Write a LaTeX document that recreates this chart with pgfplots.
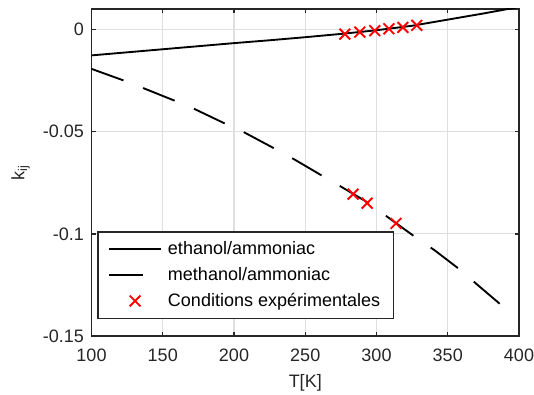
\documentclass[border=0pt]{standalone}
\usepackage{fontspec}
\setmainfont{Liberation Sans}
\usepackage{pgfplots}
\pgfplotsset{compat=1.18}
\definecolor{axgray}{HTML}{262626}
\definecolor{gridgray}{HTML}{DFDFDF}
\pgfplotsset{
  longline legend/.style={legend image code/.code={\path (-3.75pt,0pt) (41.5pt,0pt);\draw[##1] (0pt,0pt) -- (39pt,0pt);}},
  longmark legend/.style={legend image code/.code={\path (-3.75pt,0pt) (41.5pt,0pt);\draw[mark repeat=2,mark phase=2,##1] plot coordinates {(0pt,0pt) (19.5pt,0pt) (39pt,0pt)};}},
}
\begin{document}
\fontsize{13.5pt}{15pt}\selectfont
\begin{tikzpicture}
\useasboundingbox (-68.625pt,-44.25pt) rectangle (331.875pt,252pt);
\begin{axis}[
  scale only axis,
  width=320.625pt, height=245.25pt,
  xmin=100, xmax=400, ymin=-0.15, ymax=0.01,
  xtick={100,150,200,250,300,350,400},
  xticklabels={100,150,200,250,300,350,400},
  ytick={-0.15,-0.1,-0.05,0},
  yticklabels={-0.15,-0.1,-0.05,0},
  tick align=inside,
  major tick length=3.2pt,
  xtick pos=both, ytick pos=both,
  axis line style={axgray, line width=1.1pt},
  tick style={axgray, line width=1.1pt},
  grid=major,
  grid style={gridgray, line width=0.9pt},
  ticklabel style={text=axgray, font=\fontsize{13.5pt}{15pt}\selectfont},
  xticklabel style={yshift=-5pt},
  yticklabel style={xshift=-1pt},
  xlabel={T[K]},
  ylabel={k$_{\mathrm{ij}}$},
  label style={text=axgray, font=\fontsize{13.5pt}{15pt}\selectfont},
  xlabel style={at={(axis description cs:0.5,-0.1437)}, anchor=center},
  ylabel style={at={(axis description cs:-0.166,0.5)}, anchor=center},
  legend cell align=left,
  legend style={at={(rel axis cs:0.013,0.052)}, anchor=south west,
    draw=axgray, line width=1.1pt, fill=white,
    font=\fontsize{13.5pt}{15pt}\selectfont, text=black,
    inner xsep=4pt, inner ysep=5pt, row sep=3.5pt,
    nodes={inner sep=2pt}},
  clip=true,
]
\addplot[black, line width=1.4pt, longline legend]
coordinates {
(100,-0.0127) (125,-0.0112) (150,-0.0097) (175,-0.0082) (200,-0.0067)
(225,-0.0053) (250,-0.0038) (275,-0.0022) (300,-0.0004) (325,0.0018)
(350,0.0048) (375,0.0078) (400,0.0110)
};
\addlegendentry{ethanol/ammoniac}
\addplot[black, line width=1.4pt, dash pattern=on 25.5pt off 15.75pt, longline legend]
coordinates {
(100,-0.0193) (122.3,-0.0249) (136.3,-0.0287) (158.5,-0.0349) (172.5,-0.0390)
(194.7,-0.0464) (207.8,-0.0506) (229.3,-0.0586) (242.6,-0.0637) (263.1,-0.0721)
(276.5,-0.0775) (292.9,-0.0843) (309.2,-0.0925) (328.6,-0.1023) (340.7,-0.1080)
(359.4,-0.1180) (371.1,-0.1251) (389.8,-0.1362)
};
\addlegendentry{methanol/ammoniac}
\addplot[only marks, mark=x, mark size=5.7pt, red, mark options={line width=1.4pt}, longmark legend]
coordinates {
(277.8,-0.0023) (288.3,-0.0013) (298.8,-0.0006) (308.7,0.0003) (318.5,0.0010) (328.3,0.0020)
(283.6,-0.0806) (293.4,-0.0850) (313.7,-0.0949)
};
\addlegendentry{Conditions expérimentales\hspace*{4pt}}
\end{axis}
\end{tikzpicture}
\end{document}
